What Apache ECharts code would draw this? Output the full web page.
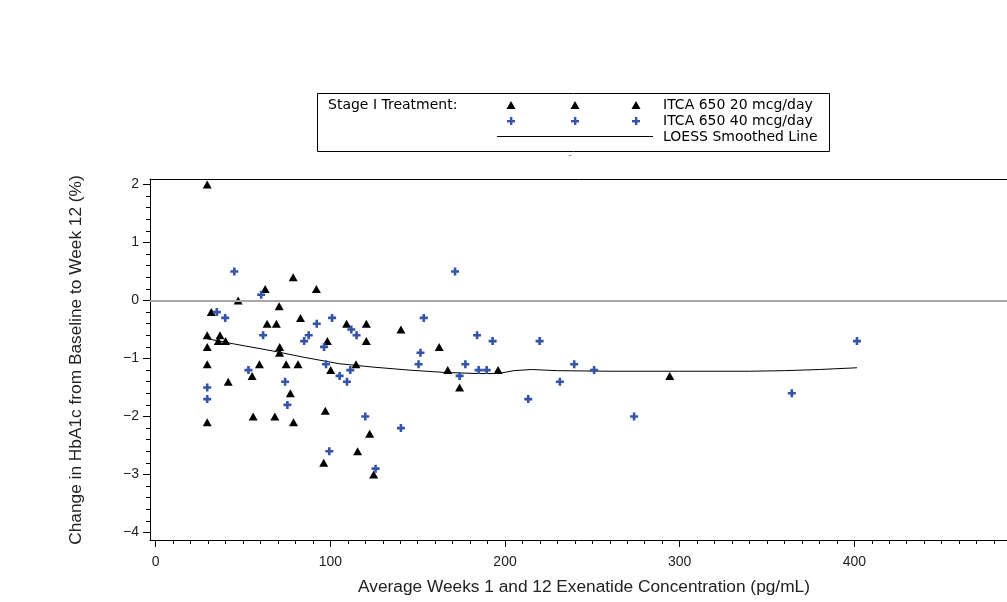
<!DOCTYPE html>
<html><head><meta charset="utf-8">
<script src="https://cdn.jsdelivr.net/npm/echarts@6/dist/echarts.min.js"></script>
<style>html,body{margin:0;padding:0;background:#fff}#c{width:1007px;height:602px}</style>
</head><body><div id="c"></div>
<script>
// ---- data ----
const seriesNames = ['ITCA 650 20 mcg/day', 'ITCA 650 40 mcg/day', 'LOESS Smoothed Line'];
const dose20X = [29.5,78.7,62.7,92,47.2,31.8,70.7,63.8,69.1,82.9,29.5,36.8,35.8,40,29.5,71,70.9,98.3,29.5,59.4,74.7,81.5,100.2,55.2,41.5,77.1,97.1,55.8,68.2,29.5,78.9,96.2,109.3,120.6,120.6,140.4,162.3,114.7,167.2,196,174,122.5,115.6,124.8,294.3];
const dose20Y = [2.0,0.4,0.2,0.2,0.0,-0.2,-0.1,-0.4,-0.4,-0.3,-0.6,-0.6,-0.7,-0.7,-0.8,-0.8,-0.9,-0.7,-1.1,-1.1,-1.1,-1.1,-1.2,-1.3,-1.4,-1.6,-1.9,-2.0,-2.0,-2.1,-2.1,-2.8,-0.4,-0.4,-0.7,-0.5,-0.8,-1.1,-1.2,-1.2,-1.5,-2.3,-2.6,-3.0,-1.3];
const dose40X = [45,60.4,35,39.8,92.2,101,61.5,85,87.6,96.4,97.5,105.3,53.1,29.5,74.1,29.5,75.4,99.4,171.4,112,115,153.5,151.6,150.5,184,192.9,219.8,111.4,109.5,177.3,184.9,189.5,174,213.3,120,140.4,125.9,231.4,239.6,251,273.9,364.2,401.5];
const dose40Y = [0.5,0.1,-0.2,-0.3,-0.4,-0.3,-0.6,-0.7,-0.6,-0.8,-1.1,-1.3,-1.2,-1.5,-1.4,-1.7,-1.8,-2.6,0.5,-0.5,-0.6,-0.3,-0.9,-1.1,-0.6,-0.7,-0.7,-1.2,-1.4,-1.1,-1.2,-1.2,-1.3,-1.7,-2.0,-2.2,-2.9,-1.4,-1.1,-1.2,-2.0,-1.6,-0.7];
const loessX = [29.5,45,67,85,105,125,145,165,185,196,205,215,230,260,300,340,360,380,401.5];
const loessY = [-0.66,-0.75,-0.87,-0.98,-1.09,-1.15,-1.2,-1.24,-1.26,-1.26,-1.21,-1.19,-1.21,-1.22,-1.22,-1.22,-1.21,-1.19,-1.16];
const xTicks = [0,100,200,300,400];
const yTicks = [-4,-3,-2,-1,0,1,2];
const xTitle = 'Average Weeks 1 and 12 Exenatide Concentration (pg/mL)';
const yTitle = 'Change in HbA1c from Baseline to Week 12 (%)';
const legendTitle = 'Stage I Treatment:';

// ---- build ----
const xMin = -3.26, xMax = 487.4, yMin = -4.13, yMax = 2.095;
const xMinor = []; for (let v = 0; v <= 480; v += 10) if (v % 100) xMinor.push(v);
const yMinor = []; for (let i = -20; i <= 10; i++) { if (i % 5) yMinor.push(+(i * 0.2).toFixed(1)); }
const zip = (a, b) => a.map((v, i) => [v, b[i]]);
const plusPath = 'path://M2.7,0h2.6v2.7h2.7v2.6h-2.7v2.7h-2.6v-2.7h-2.7v-2.6h2.7z';
const blue = '#3553a8';
const legFont = '14px "DejaVu Sans"';
const titleFont = '17.3px "Liberation Sans"';

const chart = echarts.init(document.getElementById('c'), null, {renderer: 'canvas'});

const legendGraphics = [
  {type:'rect', shape:{x:317.5,y:93.5,width:512,height:58}, style:{fill:'none',stroke:'#000',lineWidth:1}},
  {type:'text', x:328, y:105, style:{text:legendTitle, font:legFont, fill:'#000', verticalAlign:'middle'}},
  {type:'line', shape:{x1:497,y1:136.5,x2:653,y2:136.5}, style:{stroke:'#000',lineWidth:1}},
  {type:'text', x:663, y:105, style:{text:seriesNames[0], font:legFont, fill:'#000', verticalAlign:'middle'}},
  {type:'text', x:663, y:121, style:{text:seriesNames[1], font:legFont, fill:'#000', verticalAlign:'middle'}},
  {type:'text', x:663, y:137, style:{text:seriesNames[2], font:legFont, fill:'#000', verticalAlign:'middle'}},
  {type:'text', x:570, y:156, style:{text:'-', font:'9px "DejaVu Sans"', fill:'#666', align:'center', verticalAlign:'middle'}},
  {type:'text', x:584, y:587, style:{text:xTitle, font:titleFont, fill:'#222', align:'center', verticalAlign:'middle'}},
  {type:'text', x:76, y:360, rotation:Math.PI/2, style:{text:yTitle, font:titleFont, fill:'#222', align:'center', verticalAlign:'middle'}}
];
[511, 575, 636].forEach(x => {
  legendGraphics.push({type:'polygon', shape:{points:[[x-4.5,109],[x+4.5,109],[x,101]]}, style:{fill:'#000'}});
  legendGraphics.push({type:'rect', shape:{x:x-1,y:117,width:2.4,height:8}, style:{fill:blue}});
  legendGraphics.push({type:'rect', shape:{x:x-4,y:120,width:8,height:2.4}, style:{fill:blue}});
});

const option = {
  animation: false,
  backgroundColor: '#fff',
  grid: {left:150, top:179, right:0, bottom:62, show:false},
  xAxis: [
    {type:'value', min:xMin, max:xMax, position:'bottom',
     axisLine:{show:true, onZero:false, lineStyle:{color:'#000', width:1}},
     axisTick:{show:true, length:7, customValues:xTicks, lineStyle:{color:'#000'}},
     axisLabel:{customValues:xTicks, fontFamily:'Liberation Sans', fontSize:14, color:'#222', margin:15},
     splitLine:{show:false}},
    {type:'value', min:xMin, max:xMax, position:'bottom',
     axisLine:{show:false, onZero:false},
     axisTick:{show:true, length:4, customValues:xMinor, lineStyle:{color:'#000'}},
     axisLabel:{show:false}, splitLine:{show:false}},
    {type:'value', min:xMin, max:xMax, position:'top',
     axisLine:{show:true, onZero:false, lineStyle:{color:'#000', width:1}},
     axisTick:{show:false}, axisLabel:{show:false}, splitLine:{show:false}}
  ],
  yAxis: [
    {type:'value', min:yMin, max:yMax, position:'left',
     axisLine:{show:true, onZero:false, lineStyle:{color:'#000', width:1}},
     axisTick:{show:true, length:7, customValues:yTicks, lineStyle:{color:'#000'}},
     axisLabel:{customValues:yTicks, fontFamily:'Liberation Sans', fontSize:14, color:'#222', margin:11,
                formatter: v => v < 0 ? '\u2212' + Math.abs(v) : String(v)},
     splitLine:{show:false}},
    {type:'value', min:yMin, max:yMax, position:'left',
     axisLine:{show:false, onZero:false},
     axisTick:{show:true, length:4, customValues:yMinor, lineStyle:{color:'#000'}},
     axisLabel:{show:false}, splitLine:{show:false}}
  ],
  series: [
    {name:seriesNames[2], type:'line', data:zip(loessX, loessY), showSymbol:false, smooth:false,
     lineStyle:{color:'#000', width:1}, z:2,
     markLine:{silent:true, symbol:'none', label:{show:false}, lineStyle:{color:'#a8a8a8', width:2, type:'solid'},
               data:[{yAxis:0}]}},
    {name:seriesNames[0], type:'scatter', data:zip(dose20X, dose20Y), symbol:'triangle', symbolSize:[9,8],
     itemStyle:{color:'#000', opacity:1}, z:3},
    {name:seriesNames[1], type:'scatter', data:zip(dose40X, dose40Y), symbol:plusPath, symbolSize:8,
     itemStyle:{color:blue, opacity:1}, z:4}
  ],
  graphic: legendGraphics
};
chart.setOption(option);
</script></body></html>
